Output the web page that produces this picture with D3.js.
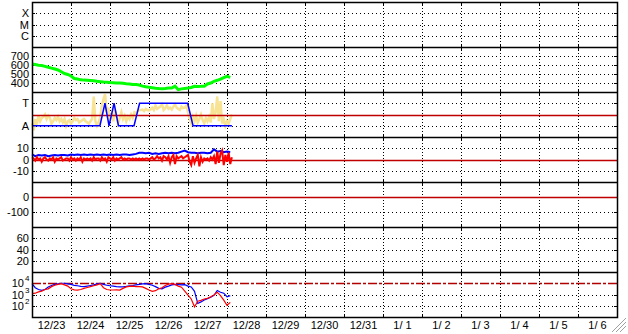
<!DOCTYPE html>
<html>
<head>
<meta charset="utf-8">
<script src="https://cdn.jsdelivr.net/npm/d3@7"></script>
<style>
  body { margin: 0; background: #fff; }
  svg { display: block; font-family: "Liberation Sans", Arial, sans-serif; font-size: 11px; }
</style>
</head>
<body>
<svg id="chart" width="628" height="334"></svg>
<script>
// hours since 12/23 00:00 (UTC)
const hours1 = d3.range(0, 124, 1)
const hours2 = d3.range(0, 124, 2)

const dayLabels = ['12/23', '12/24', '12/25', '12/26', '12/27', '12/28', '12/29', '12/30', '12/31',
  '1/ 1', '1/ 2', '1/ 3', '1/ 4', '1/ 5', '1/ 6']

// panel 2 - green, every 2 h
const greenVals = [612, 605, 598, 595, 585, 575, 565, 555, 545, 525, 505, 495,
  478, 450, 445, 435, 432, 430, 428, 426, 420, 415, 410, 408,
  405, 403, 400, 400, 398, 392, 388, 384, 382, 378, 365, 358,
  352, 348, 342, 338, 337, 340, 344, 345, 365, 326, 335, 340,
  344, 350, 363, 362, 363, 365, 389, 400, 419, 430, 444, 460, 474, 463]

// panel 3 - yellow, hourly (A = 0, T = 1)
const yellowVals = [0.1, -0.2, 0.3, 0.05, 0.45, 0.2, 0.35, 0.4, 0.5, 0.3, 0.45, 0.35,
  0.1, 0.2, 0.35, 0.25, 0.4, 0.2, 0.3, 0.15, 0.3, 0.0, 0.2, 0.25,
  0.1, 0.2, 0.35, 0.25, 0.3, 0.15, 0.2, 0.25, 0.3, 0.2, 0.15, 0.1,
  0.2, 0.3, 1.3, 0.2, 0.0, 0.15, 0.4, 0.9, 1.2, 1.4, 0.6, 0.8,
  0.3, 0.5, 0.2, 0.7, 0.4, 0.1, 0.35, 0.6, 0.3, 0.45, 0.2, 0.4,
  0.3, 0.5, 0.35, 0.6, 0.55, 0.65, 0.7, 0.7, 0.72, 0.65, 0.75, 0.7,
  0.68, 0.72, 0.8, 0.7, 0.9, 0.75, 0.8, 0.85, 0.95, 0.7, 0.78, 0.9,
  0.75, 0.8, 0.72, 0.85, 0.95, 0.8, 0.75, 0.7, 0.85, 0.78, 0.8, 0.9,
  0.6, 0.3, 0.1, 0.4, 0.2, 0.45, 0.15, 0.3, 0.5, 0.25, 0.1, 0.35,
  0.2, 0.4, 0.15, 1.0, 0.3, 0.6, 1.3, 0.2, 1.1, 0.1, 0.3, 0.0,
  0.2, 0.1, 0.3, 0.5]

// panel 3 - blue step
const stepHours = [0, 41.8, 44.9, 47.4, 50.5, 53.2, 62.8, 66.2, 95.8, 99.1, 123]
const stepVals = [0, 0, 1, 0, 1, 0, 0, 1, 1, 0, 0]

// panel 4 - blue every 2 h, red hourly
const p4Blue = [4.5, 3, 4, 3.5, 4, 3, 3.5, 4, 3.5, 4, 4, 3.5,
  4.5, 4, 4.5, 4, 4.5, 4, 4.5, 4, 4.5, 4, 4.5, 4,
  4.5, 4, 4.5, 4, 4.5, 4.5, 4, 4.5, 5, 6, 6, 5.5,
  6, 5, 5.5, 5, 5.5, 6, 5.5, 6, 5.5, 6, 7, 8,
  6.5, 6, 6, 5.5, 6, 6, 5.5, 6, 9, 7, 7.5, 6.5, 7, 6.5]
const p4Red = [2, 1, -1, 2, 0, 1, -2, 1, 2, 0, -1, 1,
  0, 2, -2, 1, 0, 1, 2, -1, 0, 1, 1, -1,
  2, 0, 1, -1, 1, 0, 2, -2, 1, 0, 1, 0,
  1, -1, 2, 0, 1, 1, -1, 2, 0, 1, -2, 2,
  1, 0, 2, -1, 1, 0, 1, 2, 0, 1, 0, 1,
  1, 0, 1, 0, 1, 0, 1, 0, 1, 0, 1, 1,
  0, 1, 2, 0, 1, 3, 1, 2, -1, 3, 2, 0,
  3, -3, 2, 4, -4, 3, 1, 2, 3, 1, 2, 3,
  4, -2, -5, 3, -3, 1, 4, -6, 2, -2, 1, 0,
  1, -1, 2, 0, 3, -4, 7, -3, 5, 8, -5, 4,
  -2, 6, -4, 2]

// panel 7 - log series, every 2 h
const logBlue = [9100, 4000, 2800, 2300, 2800, 4700, 6300, 7900, 8900, 10000, 10000, 8900,
  7900, 6500, 6000, 5200, 5000, 5600, 6300, 7100, 8900, 10000, 7900, 6600,
  6000, 5500, 5000, 4800, 4700, 5200, 6000, 6300, 7100, 7900, 8900, 9100,
  7900, 6600, 5000, 3500, 3200, 4500, 5600, 7100, 7900, 7600, 7100, 7400,
  5600, 4700, 1900, 160, 220, 320, 430, 560, 850, 2300, 1600, 1300, 630, 800]
const logRed = [1200, 1300, 1700, 2000, 2800, 3200, 5000, 6600, 7900, 9100, 7100, 5600,
  3200, 2600, 2500, 2800, 3500, 4200, 5000, 6000, 7100, 9100, 4000, 2800,
  2500, 2500, 2600, 2500, 3500, 4800, 5200, 5500, 5000, 5000, 4700, 3500,
  2500, 1900, 2200, 3200, 4000, 6300, 8300, 9300, 7900, 5600, 4500, 2000,
  900, 400, 80, 250, 300, 400, 450, 630, 900, 1600, 800, 320, 110, 200]

const svg = d3.select('#chart')
const left = 32, right = 617, top0 = 2, ph = 45
const t0 = new Date(Date.UTC(2023, 11, 23))
const t1 = new Date(Date.UTC(2024, 0, 7))
const x = d3.scaleUtc().domain([t0, t1]).range([left, right])
const hx = h => x(new Date(t0.getTime() + h * 3600e3))

const panels = [
  { s: d3.scaleLinear().domain([0, 4]), ticks: [[1, 'C'], [2, 'M'], [3, 'X']] },
  { s: d3.scaleLinear().domain([300, 800]), ticks: [[400, '400'], [500, '500'], [600, '600'], [700, '700']] },
  { s: d3.scaleLinear().domain([-0.5, 1.5]), ticks: [[0, 'A'], [1, 'T']] },
  { s: d3.scaleLinear().domain([-20, 20]), ticks: [[-10, '-10'], [0, '0'], [10, '10']], ref: 0 },
  { s: d3.scaleLinear().domain([-200, 100]), ticks: [[-100, '-100'], [0, '0']], ref: 0 },
  { s: d3.scaleLinear().domain([0, 80]), ticks: [[20, '20'], [40, '40'], [60, '60']] },
  { s: d3.scaleLog().domain([10, 1e5]), ticks: [[100, '2'], [1000, '3'], [10000, '4']], log: true, dash: 10000 }
]
panels.forEach((p, i) => p.s.range([top0 + (i + 1) * ph, top0 + i * ph]))

const days = x.ticks(d3.utcDay.every(1)).filter(d => d > t0 && d < t1)

panels.forEach((p, i) => {
  const g = svg.append('g')
  const y0 = top0 + i * ph, y1 = y0 + ph
  // vertical day grid
  g.selectAll('.vg').data(days).enter().append('line')
    .attr('x1', d => Math.round(x(d)) + 0.5).attr('x2', d => Math.round(x(d)) + 0.5)
    .attr('y1', y0).attr('y2', y1)
    .attr('stroke', '#000').attr('stroke-dasharray', '1,2')
  g.selectAll('.vt').data(days).enter().append('path')
    .attr('d', d => { const xx = Math.round(x(d)) + 0.5; return `M${xx},${y0}v3M${xx},${y1}v-3` })
    .attr('stroke', '#000')
  // horizontal grid + labels
  p.ticks.forEach(([v, lab]) => {
    const yy = Math.round(p.s(v)) + 0.5
    g.append('line').attr('x1', left).attr('x2', right).attr('y1', yy).attr('y2', yy)
      .attr('stroke', '#000').attr('stroke-dasharray', '1,3')
    g.append('path').attr('d', `M${left},${yy}h3M${right},${yy}h-3`).attr('stroke', '#000')
    const t = g.append('text').attr('x', p.log ? 24 : 29).attr('y', yy).attr('dy', '0.36em')
      .attr('text-anchor', 'end')
    if (p.log) {
      t.text('10')
      g.append('text').attr('x', 25).attr('y', yy - 3).attr('font-size', 8).text(lab)
    } else t.text(lab)
  })
  if (p.ref !== undefined) {
    const yy = Math.round(p.s(p.ref)) + 0.5
    g.append('line').attr('x1', left).attr('x2', right).attr('y1', yy).attr('y2', yy)
      .attr('stroke', '#c00000').attr('stroke-width', 1.5)
  }
  if (p.dash !== undefined) {
    const yy = Math.round(p.s(p.dash)) + 0.5
    g.append('line').attr('x1', left).attr('x2', right).attr('y1', yy).attr('y2', yy)
      .attr('stroke', '#b00000').attr('stroke-width', 1.5).attr('stroke-dasharray', '9,2,3,2')
  }
})

function drawLine(p, hs, vals, color, w) {
  const line = d3.line().x((d, i) => hx(hs[i])).y(d => p.s(d))
  svg.append('path').datum(vals).attr('d', line)
    .attr('fill', 'none').attr('stroke', color).attr('stroke-width', w)
}

drawLine(panels[1], hours2, greenVals, '#00ff00', 3)
// panel 3: yellow under the red ref, blue on top
drawLine(panels[2], hours1, yellowVals, '#f8e394', 2.5)
const p3ref = Math.round(panels[2].s(0.5)) + 0.5
svg.append('line').attr('x1', left).attr('x2', right).attr('y1', p3ref).attr('y2', p3ref)
  .attr('stroke', '#c00000').attr('stroke-width', 1.5)
drawLine(panels[2], stepHours, stepVals, '#0000ff', 1.5)
drawLine(panels[3], hours2, p4Blue, '#0000ff', 2)
drawLine(panels[3], hours1, p4Red, '#ff0000', 2)
drawLine(panels[6], hours2, logBlue, '#0000ff', 1.2)
drawLine(panels[6], hours2, logRed, '#ff0000', 1.2)

// frame and panel separators
svg.append('rect').attr('x', left + 0.5).attr('y', top0 + 0.5)
  .attr('width', right - left).attr('height', ph * 7)
  .attr('fill', 'none').attr('stroke', '#000').attr('stroke-width', 1.5)
svg.selectAll('.sep').data(d3.range(1, 7)).enter().append('line')
  .attr('x1', left).attr('x2', right + 1)
  .attr('y1', d => top0 + d * ph + 0.5).attr('y2', d => top0 + d * ph + 0.5)
  .attr('stroke', '#000').attr('stroke-width', 1.5)

// day labels at noon
svg.selectAll('.dl').data(dayLabels).enter().append('text')
  .attr('x', (d, i) => x(new Date(t0.getTime() + (i * 24 + 12) * 3600e3)))
  .attr('y', 329).attr('text-anchor', 'middle')
  .style('white-space', 'pre')
  .text(d => d)

// resize grip
const grip = svg.append('g').attr('stroke', '#a0a0a0')
;[[612, 332, 626, 318], [616, 332, 626, 322], [620, 332, 626, 326]].forEach(([a, b, c, d]) => {
  grip.append('line').attr('x1', a).attr('y1', b).attr('x2', c).attr('y2', d)
})
</script>
</body>
</html>
